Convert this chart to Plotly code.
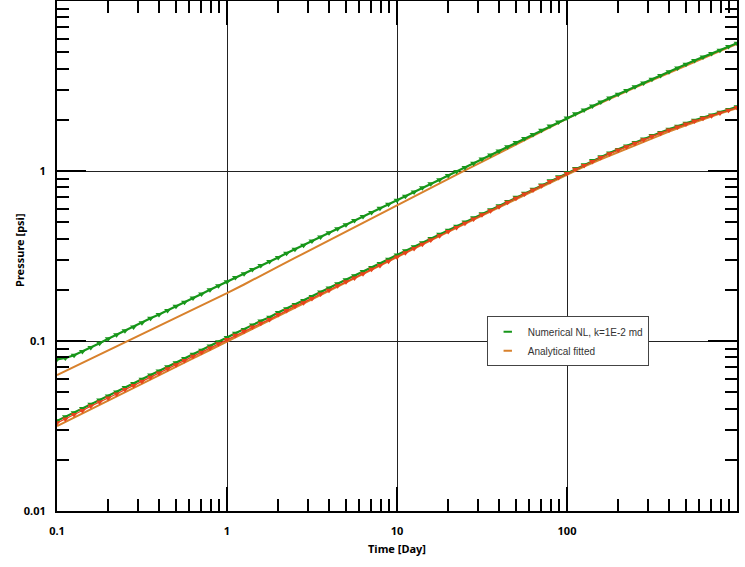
import plotly.graph_objects as go

# ---------------- data ----------------
time_num = [0.1, 0.112, 0.126, 0.141, 0.158, 0.178, 0.2, 0.224, 0.251, 0.282,
            0.316, 0.355, 0.398, 0.447, 0.501, 0.562, 0.631, 0.708, 0.794, 0.891,
            1, 1.12, 1.26, 1.41, 1.58, 1.78, 2, 2.24, 2.51, 2.82,
            3.16, 3.55, 3.98, 4.47, 5.01, 5.62, 6.31, 7.08, 7.94, 8.91,
            10, 11.2, 12.6, 14.1, 15.8, 17.8, 20, 22.4, 25.1, 28.2,
            31.6, 35.5, 39.8, 44.7, 50.1, 56.2, 63.1, 70.8, 79.4, 89.1,
            100, 112, 126, 141, 158, 178, 200, 224, 251, 282,
            316, 355, 398, 447, 501, 562, 631, 708, 794, 891, 1000]

p_num_upper = [0.0780, 0.0794, 0.0824, 0.0867, 0.0916, 0.0970, 0.103, 0.109, 0.115, 0.121,
               0.128, 0.136, 0.143, 0.151, 0.160, 0.169, 0.179, 0.189, 0.200, 0.211,
               0.223, 0.236, 0.249, 0.263, 0.278, 0.294, 0.310, 0.328, 0.347, 0.366,
               0.387, 0.409, 0.433, 0.457, 0.483, 0.511, 0.540, 0.570, 0.603, 0.637,
               0.673, 0.711, 0.752, 0.796, 0.841, 0.889, 0.940, 0.993, 1.050, 1.112,
               1.175, 1.242, 1.312, 1.390, 1.469, 1.552, 1.641, 1.734, 1.837, 1.941,
               2.051, 2.168, 2.286, 2.415, 2.547, 2.692, 2.831, 2.979, 3.133, 3.296,
               3.467, 3.648, 3.837, 4.036, 4.246, 4.467, 4.677, 4.909, 5.140, 5.395, 5.649]

p_num_lower = [0.0339, 0.0358, 0.0379, 0.0401, 0.0425, 0.0449, 0.0475, 0.0502, 0.0532, 0.0562,
               0.0596, 0.0630, 0.0667, 0.0705, 0.0746, 0.0789, 0.0836, 0.0883, 0.0935, 0.0989,
               0.1047, 0.111, 0.117, 0.124, 0.131, 0.138, 0.147, 0.155, 0.164, 0.173,
               0.183, 0.194, 0.205, 0.217, 0.229, 0.242, 0.256, 0.271, 0.286, 0.303,
               0.321, 0.339, 0.358, 0.379, 0.401, 0.424, 0.448, 0.473, 0.501, 0.530,
               0.560, 0.592, 0.625, 0.662, 0.700, 0.740, 0.782, 0.826, 0.875, 0.925,
               0.977, 1.033, 1.089, 1.151, 1.213, 1.278, 1.340, 1.405, 1.473, 1.543,
               1.615, 1.686, 1.758, 1.833, 1.910, 1.988, 2.061, 2.136, 2.214, 2.297, 2.384]

p_num_lower_red = [0.0330, 0.0348, 0.0369, 0.0390, 0.0414, 0.0437, 0.0462, 0.0488, 0.0518, 0.0547,
                   0.0580, 0.0613, 0.0649, 0.0686, 0.0726, 0.0768, 0.0813, 0.0859, 0.0910, 0.0962,
                   0.102, 0.108, 0.114, 0.121, 0.127, 0.134, 0.143, 0.151, 0.160, 0.168,
                   0.178, 0.189, 0.199, 0.211, 0.223, 0.235, 0.249, 0.264, 0.278, 0.295,
                   0.312, 0.331, 0.350, 0.371, 0.393, 0.416, 0.440, 0.465, 0.493, 0.522,
                   0.552, 0.584, 0.617, 0.654, 0.692, 0.732, 0.774, 0.818, 0.866, 0.916,
                   0.967, 1.023, 1.078, 1.139, 1.201, 1.265, 1.327, 1.391, 1.458, 1.528,
                   1.599, 1.669, 1.740, 1.815, 1.891, 1.968, 2.040, 2.115, 2.192, 2.274, 2.360]

time_ana = [0.1, 0.126, 0.158, 0.2, 0.251, 0.316, 0.398, 0.501, 0.631, 0.794,
            1, 1.26, 1.58, 2, 2.51, 3.16, 3.98, 5.01, 6.31, 7.94,
            10, 12.6, 15.8, 20, 25.1, 31.6, 39.8, 50.1, 63.1, 79.4,
            100, 126, 158, 200, 251, 316, 398, 501, 631, 794, 1000]

p_ana_upper = [0.0631, 0.0705, 0.0787, 0.0879, 0.0982, 0.110, 0.122, 0.137, 0.153, 0.171,
               0.191, 0.215, 0.243, 0.274, 0.308, 0.347, 0.391, 0.441, 0.497, 0.560,
               0.631, 0.710, 0.798, 0.895, 1.007, 1.132, 1.274, 1.432, 1.607, 1.807,
               2.032, 2.265, 2.518, 2.793, 3.090, 3.420, 3.784, 4.188, 4.624, 5.082, 5.585]

p_ana_lower = [0.0316, 0.0355, 0.0398, 0.0446, 0.0500, 0.0561, 0.0630, 0.0705, 0.0791, 0.0885,
               0.0993, 0.111, 0.125, 0.140, 0.157, 0.176, 0.198, 0.222, 0.249, 0.279,
               0.313, 0.350, 0.391, 0.438, 0.489, 0.547, 0.611, 0.684, 0.764, 0.855,
               0.955, 1.060, 1.172, 1.292, 1.420, 1.560, 1.705, 1.857, 2.020, 2.180, 2.345]

x_tickvals = [0.1, 1, 10, 100]
x_ticktext = ["0.1", "1", "10", "100"]
x_minorvals = [0.2, 0.3, 0.4, 0.5, 0.6, 0.7, 0.8, 0.9,
               2, 3, 4, 5, 6, 7, 8, 9,
               20, 30, 40, 50, 60, 70, 80, 90,
               200, 300, 400, 500, 600, 700, 800, 900]
y_tickvals = [0.01, 0.1, 1]
y_ticktext = ["0.01", "0.1", "1"]
y_minorvals = [0.02, 0.03, 0.04, 0.05, 0.06, 0.07, 0.08, 0.09,
               0.2, 0.3, 0.4, 0.5, 0.6, 0.7, 0.8, 0.9,
               2, 3, 4, 5, 6, 7, 8, 9]

legend_names = ["Numerical NL, k=1E-2 md", "Analytical fitted"]
x_title = "Time [Day]"
y_title = "Pressure [psi]"

# ---------------- styling ----------------
GREEN = "#17961a"
ORANGE = "#d8812c"
RED = "#e8431c"
FONT = "Noto Sans"

fig = go.Figure()

fig.add_trace(go.Scatter(x=time_ana, y=p_ana_upper, mode="lines",
                         line=dict(color=ORANGE, width=2), showlegend=False))
fig.add_trace(go.Scatter(x=time_ana, y=p_ana_lower, mode="lines",
                         line=dict(color=ORANGE, width=2), showlegend=False))

fig.add_trace(go.Scatter(x=time_num, y=p_num_upper, mode="lines+markers",
                         line=dict(color=GREEN, width=2.2),
                         marker=dict(symbol="triangle-down", size=6, color=GREEN),
                         showlegend=False))
fig.add_trace(go.Scatter(x=time_num, y=p_num_lower, mode="lines+markers",
                         line=dict(color=GREEN, width=2.2),
                         marker=dict(symbol="triangle-down", size=6, color=GREEN),
                         showlegend=False))
fig.add_trace(go.Scatter(x=time_num, y=p_num_lower_red, mode="lines+markers",
                         line=dict(color=RED, width=1.3),
                         marker=dict(symbol="triangle-down", size=6, color=RED),
                         showlegend=False))

for name, col in zip(legend_names, [GREEN, ORANGE]):
    fig.add_trace(go.Scatter(x=[None], y=[None], mode="markers", name=name,
                             marker=dict(symbol="line-ew", size=6,
                                         line=dict(color=col, width=2))))

axis_common = dict(
    type="log",
    automargin=False,
    showline=True, linecolor="black", linewidth=2,
    mirror="allticks",
    ticks="inside", tickcolor="black", tickwidth=1.5,
    showgrid=True, gridcolor="#222222", gridwidth=1,
    zeroline=False,
    tickmode="array",
    tickfont=dict(family=FONT, size=11, color="black", weight="bold"),
)

fig.update_xaxes(
    **axis_common,
    range=[-1, 3],
    tickvals=x_tickvals, ticktext=x_ticktext,
    ticklen=24,
    ticklabelstandoff=9,
    minor=dict(ticks="inside", ticklen=12, tickwidth=1.5, tickcolor="black",
               tickmode="array", tickvals=x_minorvals, showgrid=False),
    title=dict(text=x_title, font=dict(family=FONT, size=11, color="black", weight="bold"),
               standoff=8),
)
fig.update_yaxes(
    **axis_common,
    range=[-2, 1],
    tickvals=y_tickvals, ticktext=y_ticktext,
    ticklen=29,
    ticklabelstandoff=7,
    minor=dict(ticks="inside", ticklen=12, tickwidth=1.5, tickcolor="black",
               tickmode="array", tickvals=y_minorvals, showgrid=False),
)

fig.add_annotation(text=y_title, textangle=-90, xref="paper", yref="paper",
                   x=-0.0544, y=0.51, xanchor="center", yanchor="middle",
                   showarrow=False,
                   font=dict(family=FONT, size=11, color="black", weight="bold"))

fig.update_layout(
    width=745, height=567,
    margin=dict(l=57, r=8, t=1, b=56, autoexpand=False),
    paper_bgcolor="white", plot_bgcolor="white",
    showlegend=True,
    legend=dict(x=0.632, y=0.382, xanchor="left", yanchor="top",
                bgcolor="white", bordercolor="#444444", borderwidth=1,
                font=dict(family="Liberation Sans", size=10, color="#333333"),
                itemwidth=30, tracegroupgap=0),
)

fig.write_html("out.html", config={"displayModeBar": False},
               post_script="document.body.style.margin='0';document.body.style.overflow='hidden';")
